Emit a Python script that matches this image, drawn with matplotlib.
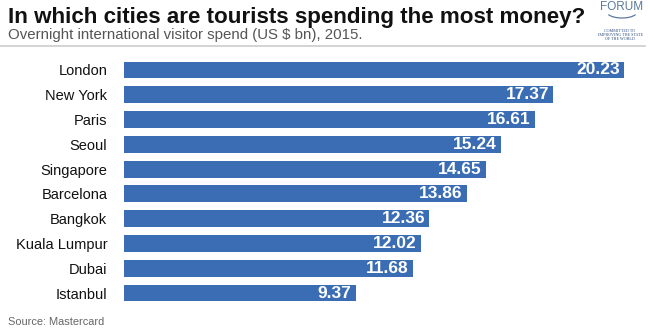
import matplotlib.pyplot as plt
from matplotlib.lines import Line2D
from matplotlib.patches import Arc

plt.rcParams['font.family'] = ['Liberation Sans', 'DejaVu Sans']

# data
cities = ['London', 'New York', 'Paris', 'Seoul', 'Singapore', 'Barcelona',
          'Bangkok', 'Kuala Lumpur', 'Dubai', 'Istanbul']
spend = [20.23, 17.37, 16.61, 15.24, 14.65, 13.86, 12.36, 12.02, 11.68, 9.37]

W, H = 650, 336
fig = plt.figure(figsize=(W / 100, H / 100), dpi=100)

# axes placed in pixel terms
left, right, top, bottom = 124, 624, 57.6, 305.4
ax = fig.add_axes([left / W, 1 - bottom / H, (right - left) / W, (bottom - top) / H])

bar_color = '#3b6db4'
ypos = list(range(len(cities)))
ax.barh(ypos, spend, height=0.68, color=bar_color)
ax.set_xlim(0, max(spend))
ax.set_ylim(len(cities) - 0.5, -0.5)

for y, v in zip(ypos, spend):
    ax.text(v - 0.17, y, f'{v:.2f}', color='white', fontsize=12.5, fontweight='bold',
            ha='right', va='center')

ax.set_yticks(ypos)
ax.set_yticklabels(cities, fontsize=10.5, color='#111111')
ax.tick_params(axis='y', length=0, pad=12)
ax.set_xticks([])
for s in ax.spines.values():
    s.set_visible(False)

# titles
fig.text(8 / W, 1 - 18 / H, 'In which cities are tourists spending the most money?',
         fontsize=16.1, fontweight='bold', color='#111111', ha='left', va='center')
fig.text(8 / W, 1 - 35 / H, 'Overnight international visitor spend (US $ bn), 2015.',
         fontsize=10.8, color='#555555', ha='left', va='center')
fig.add_artist(Line2D([0, 645 / W], [1 - 46 / H, 1 - 46 / H], color='#cccccc', lw=1.2))

# logo
fig.text(622 / W, 1 - 7 / H, 'FORUM', fontsize=8.5, color='#5a7aa0', ha='center', va='center')
fig.add_artist(Arc((622 / W, 1 - 12 / H), 30 / W, 12 / H, theta1=200, theta2=340,
                   color='#5a7aa0', lw=0.9, transform=fig.transFigure))
for i, t in enumerate(['COMMITTED TO', 'IMPROVING THE STATE', 'OF THE WORLD']):
    fig.text(620 / W, 1 - (31 + 4 * i) / H, t, fontsize=3, color='#2a4a80',
             ha='center', va='center', family='Liberation Serif')

fig.text(8 / W, 1 - 322 / H, 'Source: Mastercard', fontsize=7.9, color='#666666',
         ha='left', va='center')

fig.savefig('out.png', dpi=100)
